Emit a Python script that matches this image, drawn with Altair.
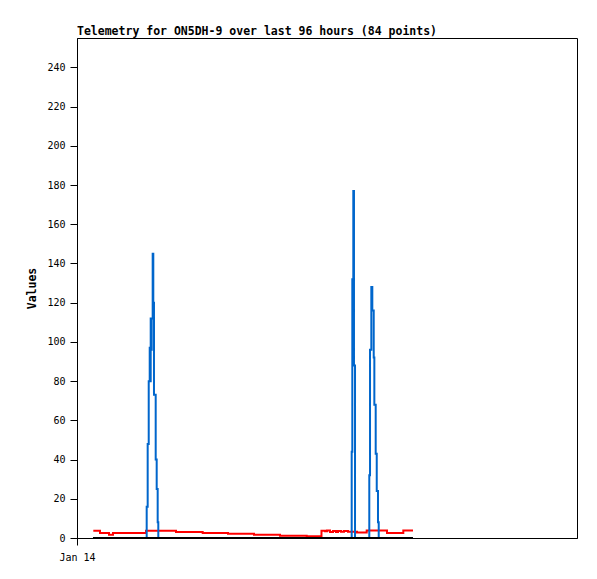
import altair as alt
import pandas as pd

# hours since start of the 96-hour window
blue_t = [3.07, 13.38, 13.57, 13.77, 13.96, 14.05, 14.15, 14.25, 14.34, 14.53, 14.65,
          14.78, 15.11, 15.30, 15.49, 15.61, 52.74, 52.86, 53.05, 53.18, 53.38,
          56.12, 56.26, 56.51, 56.70, 56.97, 57.09, 57.35, 57.55, 57.79, 57.93, 64.51]
blue_v = [0, 16, 48, 80, 97, 80, 112, 96, 112, 145, 120,
          73, 40, 25, 8, 0, 44, 132, 177, 88, 0,
          32, 96, 128, 116, 92, 68, 43, 24, 8, 0, 0]

red_t = [3.13, 4.42, 6.14, 6.91, 13.25, 19.01, 24.13, 28.99, 33.98, 38.98, 44.10,
         46.94, 47.62, 48.00, 48.58, 49.15, 49.73, 50.11, 50.69, 51.26, 52.03,
         53.76, 55.62, 59.52, 62.65, 64.51]
red_v = [3.7, 2.5, 1.7, 2.5, 3.7, 3.0, 2.5, 2.2, 1.7, 1.2, 0.9,
         3.7, 3.4, 3.8, 3.0, 3.6, 3.0, 3.6, 3.2, 3.6, 3.2,
         2.8, 3.8, 2.5, 3.8, 3.8]

black_t = [3.07, 64.51]
black_v = [0, 0]

x_ticks = [0]
x_tick_labels = ["Jan 14"]
y_ticks = [0, 20, 40, 60, 80, 100, 120, 140, 160, 180, 200, 220, 240]

title_text = "Telemetry for ON5DH-9 over last 96 hours (84 points)"

blue_df = pd.DataFrame({"t": blue_t, "v": blue_v})
red_df = pd.DataFrame({"t": red_t, "v": red_v})
black_df = pd.DataFrame({"t": black_t, "v": black_v})

xscale = alt.Scale(domain=[0, 96], nice=False, zero=False)
yscale = alt.Scale(domain=[0, 255], nice=False)

mono = "DejaVu Sans Mono"

xaxis = alt.Axis(values=x_ticks, labelExpr="'" + x_tick_labels[0] + "'", grid=False,
                 title=None, tickSize=7, tickColor="black", domainColor="black",
                 labelFont=mono, labelFontSize=10, labelColor="black", labelPadding=7,
                 labelAlign="center")
yaxis = alt.Axis(values=y_ticks, grid=False, title="Values", tickSize=7,
                 tickColor="black", domainColor="black", labelFont=mono,
                 labelFontSize=10, labelColor="black", labelPadding=5,
                 titleFont=mono, titleFontSize=11.5, titleFontWeight="bold",
                 titleColor="black", titleAngle=270, titleX=-45, titleY=250,
                 titleAlign="center", titleBaseline="middle")


def line(df, color):
    return alt.Chart(df).mark_line(interpolate="step-after", color=color,
                                   strokeWidth=2, clip=True).encode(
        x=alt.X("t:Q", scale=xscale, axis=xaxis),
        y=alt.Y("v:Q", scale=yscale, axis=yaxis),
    )


chart = alt.layer(
    line(red_df, "#ff0000"),
    line(blue_df, "#0066cc"),
    line(black_df, "#000000"),
).properties(
    width=500,
    height=500,
    title=alt.TitleParams(text=title_text, anchor="start", frame="group",
                          font=mono, fontSize=11.5, fontWeight="bold",
                          color="black", offset=1),
    autosize=alt.AutoSizeParams(type="none"),
    padding={"left": 69, "top": 30, "right": 12, "bottom": 33},
    background="white",
).configure_view(stroke="black", strokeWidth=1)

chart.save("out.html", embed_options={"renderer": "svg", "actions": False})
